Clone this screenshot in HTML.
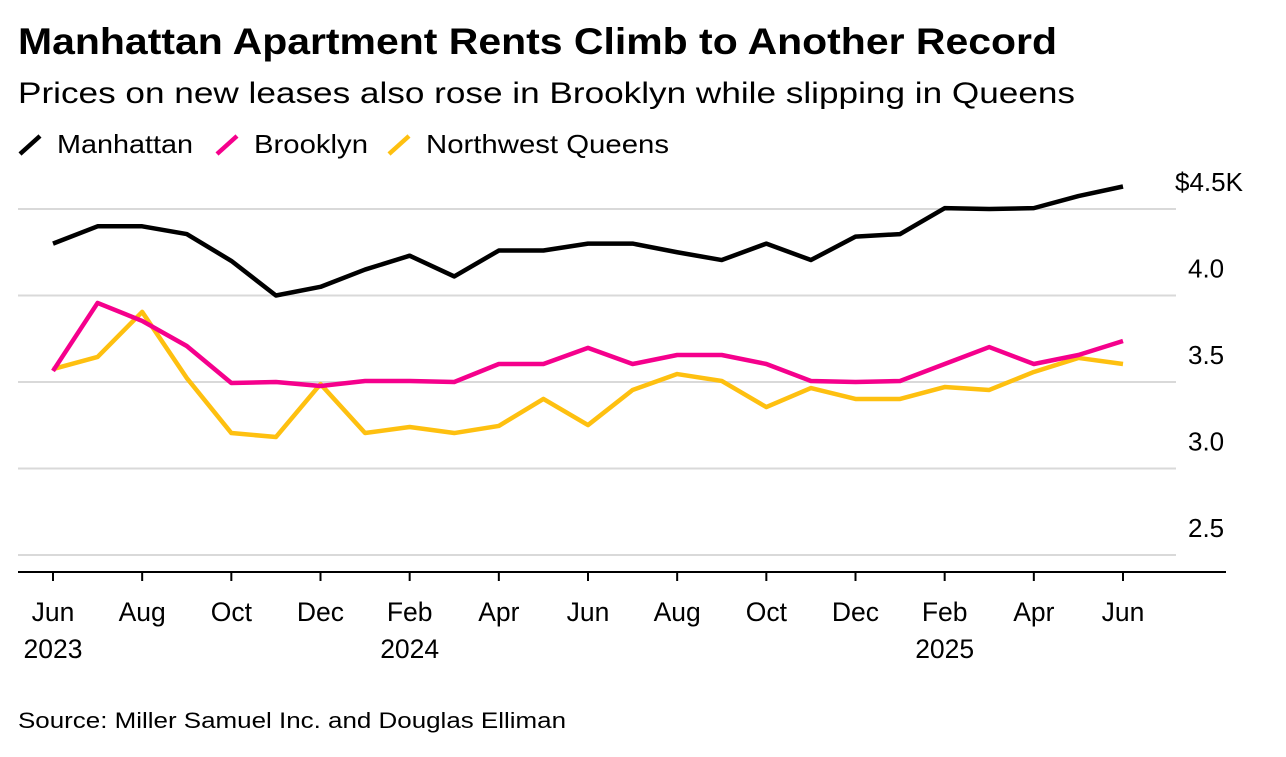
<!DOCTYPE html>
<html><head><meta charset="utf-8"><style>
body{margin:0;background:#fff;width:1286px;height:752px;overflow:hidden;font-family:"Liberation Sans",sans-serif;}
</style></head><body>
<svg width="1286" height="752">
<text x="18" y="54" font-size="37" font-weight="bold" fill="#000" textLength="1039" lengthAdjust="spacingAndGlyphs">Manhattan Apartment Rents Climb to Another Record</text>
<text x="18" y="103" font-size="30" fill="#000" textLength="1057" lengthAdjust="spacingAndGlyphs">Prices on new leases also rose in Brooklyn while slipping in Queens</text>
<g id="legend" font-size="25"></g>
<g id="grid"></g>
<g id="series"></g>
<g id="xaxis"></g>
<text x="18" y="728" font-size="22" fill="#000" textLength="548" lengthAdjust="spacingAndGlyphs">Source: Miller Samuel Inc. and Douglas Elliman</text>
</svg>
<script>
const manhattan=[4.30,4.40,4.40,4.355,4.20,4.00,4.05,4.15,4.23,4.11,4.26,4.26,4.30,4.30,4.25,4.205,4.30,4.205,4.34,4.355,4.505,4.50,4.505,4.575,4.63];
const brooklyn=[3.564,3.957,3.853,3.708,3.494,3.50,3.477,3.506,3.506,3.50,3.604,3.604,3.697,3.604,3.656,3.656,3.604,3.506,3.50,3.506,3.604,3.702,3.604,3.656,3.737];
const queens=[3.575,3.645,3.905,3.523,3.205,3.182,3.488,3.205,3.24,3.205,3.246,3.402,3.251,3.454,3.546,3.506,3.355,3.465,3.402,3.402,3.471,3.454,3.558,3.639,3.604];
const yTicks=[2.5,3.0,3.5,4.0,4.5];
const yTickLabels=["2.5","3.0","3.5","4.0","$4.5K"];
const xTickLabels=[["Jun","2023"],["Aug"],["Oct"],["Dec"],["Feb","2024"],["Apr"],["Jun"],["Aug"],["Oct"],["Dec"],["Feb","2025"],["Apr"],["Jun"]];
const seriesNames=["Manhattan","Brooklyn","Northwest Queens"];
const colors=["#000000","#f5008c","#fec010"];
const NS="http://www.w3.org/2000/svg";
const x=i=>53+i*(1123-53)/24;
const y=v=>209+(4.5-v)*173;
function mk(t,a,p){const e=document.createElementNS(NS,t);for(const k in a)e.setAttribute(k,a[k]);p.appendChild(e);return e;}
const grid=document.getElementById('grid');
yTicks.forEach((v,i)=>{
 const l=mk('line',{x1:18,x2:1176,y1:y(v),y2:y(v),stroke:'#d9d9d9','stroke-width':2},grid);
 
 
 const t=mk('text',{x:i==4?1175:1188,y:y(v)-18,'font-size':26,fill:'#000'},grid);
 t.textContent=yTickLabels[i];
 
 
});
const xa=document.getElementById('xaxis');
const ax=mk('line',{x1:18,x2:1226,y1:572,y2:572,stroke:'#000','stroke-width':2},xa);


xTickLabels.forEach((lab,i)=>{
 const xx=x(i*2);
 const tk=mk('line',{x1:xx,x2:xx,y1:572,y2:581,stroke:'#000','stroke-width':2},xa);
 
 
 lab.forEach((s,j)=>{
  const t=mk('text',{x:xx,y:621+j*37,'font-size':26.5,'text-anchor':'middle',fill:'#000'},xa);
  t.textContent=s;
  
  
 });
});
const sg=document.getElementById('series');
[manhattan,brooklyn,queens].slice().reverse().forEach((d,ri)=>{
 const k=2-ri;
 const p=mk('polyline',{points:d.map((v,i)=>x(i)+','+y(v)).join(' '),fill:'none',stroke:colors[k],'stroke-width':4.5,'stroke-linejoin':'round'},sg);
 
 
});
const lg=document.getElementById('legend');
const legendX=[20,217,389];
const legendW=[136,114,243];
seriesNames.forEach((n,i)=>{
 const lx=legendX[i];
 const l=mk('line',{x1:lx,y1:154,x2:lx+20,y2:136,stroke:colors[i],'stroke-width':4.5},lg);
 
 
 const t=mk('text',{x:lx+37,y:153,'font-size':26,fill:'#000',textLength:legendW[i],lengthAdjust:'spacingAndGlyphs'},lg);
 t.textContent=n;
 
 
});
</script>
</body></html>
